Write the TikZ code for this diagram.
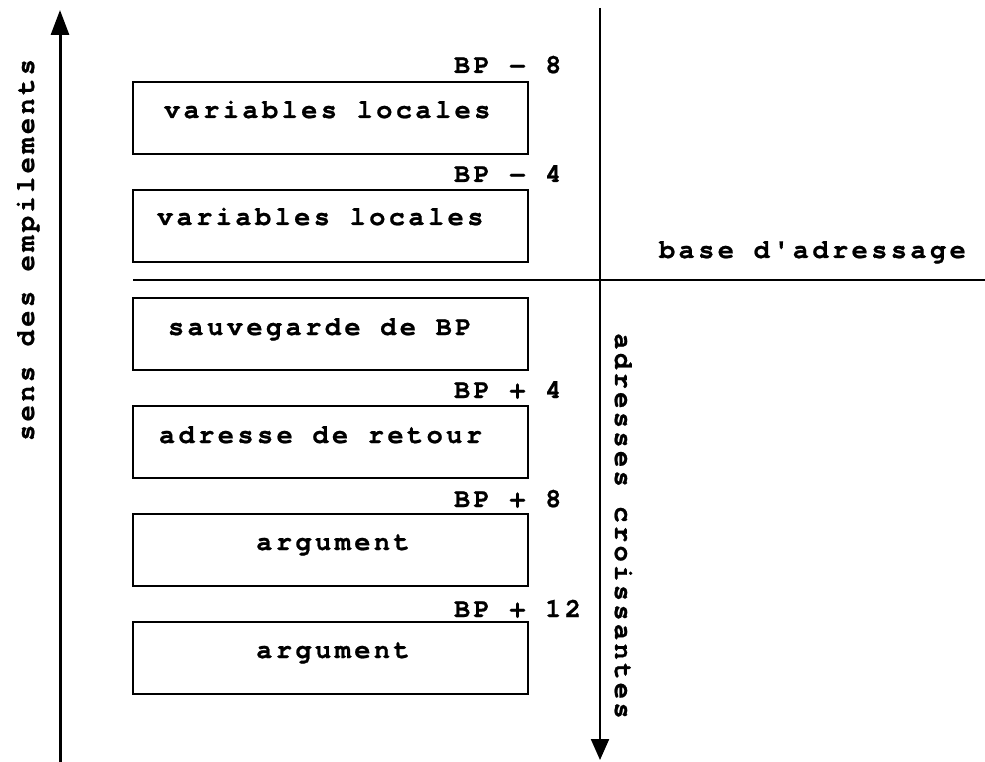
\documentclass[tikz,border=0pt]{standalone}
\usepackage{fontspec}
\usetikzlibrary{arrows.meta}
\newfontfamily\stackfont[LetterSpace=12.6,BoldFeatures={FakeBold=0.8}]{TeX Gyre Cursor}
\begin{document}
\begin{tikzpicture}[x=1pt,y=-1pt,
  every node/.style={inner sep=0pt,outer sep=0pt},
  lbl/.style={font=\stackfont\bfseries\fontsize{27}{29}\selectfont},
  cell/.style={draw,line width=1.4pt,minimum width=395pt,minimum height=72pt,anchor=north west},
  offs/.style={lbl,anchor=base west}
]
\useasboundingbox (0,0) rectangle (985,762);

% stack cells
\node[cell] (c1) at (133,82) {};
\node[cell] (c2) at (133,190) {};
\node[cell] (c3) at (133,298) {};
\node[cell] (c4) at (133,406) {};
\node[cell] (c5) at (133,514) {};
\node[cell] (c6) at (133,622) {};

% cell contents
\node[lbl,anchor=base west] (t1) at (164,118) {variables locales};
\node[lbl,anchor=base west] (t2) at (157,225) {variables locales};
\node[lbl,anchor=base west] (t3) at (168,335) {sauvegarde de BP};
\node[lbl,anchor=base west] (t4) at (159,443) {adresse de retour};
\node[lbl,anchor=base] (t5) at (333,550) {argument};
\node[lbl,anchor=base] (t6) at (333,658) {argument};

% offsets relative to BP
\node[offs] (o1) at (454,73) {BP − 8};
\node[offs] (o2) at (454,182) {BP − 4};
\node[offs] (o3) at (454,398) {BP + 4};
\node[offs] (o4) at (454,507) {BP + 8};
\node[offs] (o5) at (454,617) {BP + 12};

% base line
\coordinate (bl) at (133,280);
\coordinate (br) at (985,280);
\draw[line width=1.6pt] (bl) -- (br);
\node[offs] (base) at (659,258) {base d'adressage};

% stacking direction
\coordinate (up0) at (60,762);
\coordinate (up1) at (60,10);
\draw[line width=3pt,-{Triangle[length=25pt,width=18pt]}] (up0) -- (up1);
\node[lbl,rotate=90,anchor=base] (sens) at (34,250) {sens des empilements};

% increasing addresses
\coordinate (dn0) at (600,8);
\coordinate (dn1) at (600,760);
\draw[line width=2.2pt,-{Triangle[length=21pt,width=18pt]}] (dn0) -- (dn1);
\node[lbl,rotate=-90,anchor=base] (addr) at (615,526) {adresses croissantes};
\end{tikzpicture}
\end{document}
